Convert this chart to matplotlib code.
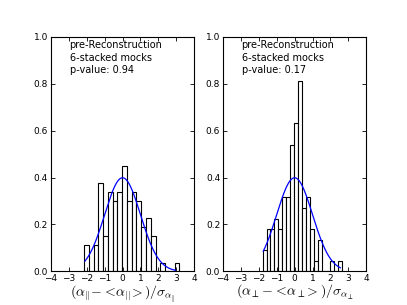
import numpy as np
import matplotlib
matplotlib.use("Agg")
import matplotlib.pyplot as plt

# ----------------------------
# Histogram data (counts per bin, 100 mocks)
# ----------------------------
par_start, par_width = -2.15, 0.266
par_counts = [3, 0, 3, 10, 4, 9, 8, 9, 12, 8, 9, 8, 5, 6, 4, 0, 1, 0, 0, 1]
par_curve = (-2.1, 2.95)
par_pvalue = 0.94

perp_start, perp_width = -1.79, 0.222
perp_counts = [2, 4, 4, 5, 4, 7, 7, 12, 14, 18, 6, 7, 4, 1, 3, 0, 0, 1, 0, 1]
perp_curve = (-1.75, 2.55)
perp_pvalue = 0.17

xlabels = [r"$(\alpha_{||}\!-\!<\!\alpha_{||}\!>)/\sigma_{\alpha_{||}}$",
           r"$(\alpha_{\perp}\!-\!<\!\alpha_{\perp}\!>)/\sigma_{\alpha_{\perp}}$"]

plt.rcParams["mathtext.fontset"] = "cm"
plt.rcParams["xtick.direction"] = "in"
plt.rcParams["ytick.direction"] = "in"
plt.rcParams["xtick.top"] = True
plt.rcParams["ytick.right"] = True


def draw_panel(ax, start, width, counts, curve, pvalue, xlabel):
    edges = start + width * np.arange(len(counts) + 1)
    centers = edges[:-1] + width / 2
    ax.hist(centers, bins=edges, weights=counts, density=True,
            facecolor="white", edgecolor="black", linewidth=0.8)
    xs = np.linspace(curve[0], curve[1], 200)
    ax.plot(xs, np.exp(-xs ** 2 / 2) / np.sqrt(2 * np.pi), color="blue", lw=0.9)
    ax.set_xlim(-4, 4)
    ax.set_ylim(0, 1.0)
    ax.set_xticks(range(-4, 5))
    ax.set_yticks([0, 0.2, 0.4, 0.6, 0.8, 1.0])
    ax.tick_params(labelsize=6.5, length=3, width=0.6, pad=2)
    ax.text(0.13, 0.985, "pre-Reconstruction\n6-stacked mocks\np-value: %.2f" % pvalue,
            transform=ax.transAxes, ha="left", va="top", fontsize=7, linespacing=1.3)
    ax.set_xlabel(xlabel, fontsize=10, labelpad=0)


fig, axes = plt.subplots(1, 2, figsize=(4.07, 3.05), dpi=100)
draw_panel(axes[0], par_start, par_width, par_counts, par_curve, par_pvalue, xlabels[0])
draw_panel(axes[1], perp_start, perp_width, perp_counts, perp_curve, perp_pvalue, xlabels[1])

fig.savefig("out.png", dpi=100)
